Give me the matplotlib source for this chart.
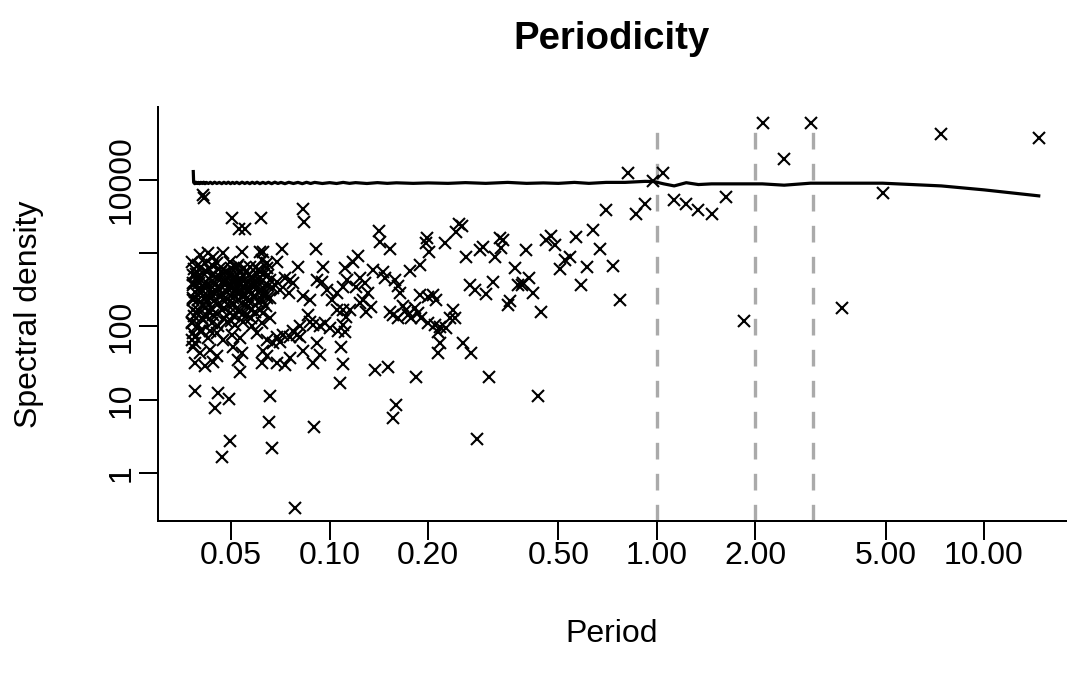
import matplotlib
matplotlib.use("Agg")
import matplotlib.pyplot as plt
from matplotlib.ticker import NullLocator, FixedLocator, FixedFormatter

# ---------------- data (period, spectral density) ----------------
# dense short-period cluster
dense_period = [0.0402, 0.0426, 0.0441, 0.0473, 0.0539, 0.0613,
                0.0380, 0.0397, 0.0416, 0.0452, 0.0496, 0.0526, 0.0571, 0.0606, 0.0642,
                0.0381, 0.0393, 0.0411, 0.0436, 0.0462, 0.0490, 0.0508, 0.0545, 0.0578, 0.0613, 0.0650,
                0.0383, 0.0402, 0.0421, 0.0446, 0.0479, 0.0502, 0.0526, 0.0558, 0.0592, 0.0627,
                0.0381, 0.0397, 0.0421, 0.0441, 0.0473, 0.0508, 0.0539, 0.0571, 0.0606, 0.0642,
                0.0382, 0.0393, 0.0416, 0.0441, 0.0468, 0.0496, 0.0526, 0.0558, 0.0592, 0.0627,
                0.0380, 0.0397, 0.0411, 0.0436, 0.0457, 0.0485, 0.0514, 0.0545, 0.0578, 0.0620,
                0.0381, 0.0388, 0.0407, 0.0426, 0.0452, 0.0473, 0.0502, 0.0532, 0.0599,
                0.0383, 0.0402, 0.0431, 0.0452, 0.0508, 0.0539, 0.0620,
                0.0388, 0.0416, 0.0441, 0.0526, 0.0532,
                0.0508, 0.0532, 0.0558, 0.0585, 0.0520, 0.0551, 0.0578, 0.0599, 0.0384, 0.0401,
                0.0422, 0.0389, 0.0431, 0.0380, 0.0381, 0.0382, 0.0380,
                0.0386, 0.0395, 0.0405, 0.0409, 0.0418, 0.0424, 0.0429, 0.0434, 0.0439, 0.0444,
                0.0449, 0.0455, 0.0460, 0.0465, 0.0470, 0.0476, 0.0482, 0.0487, 0.0493, 0.0499,
                0.0505, 0.0511, 0.0517, 0.0523, 0.0529, 0.0535, 0.0542, 0.0548, 0.0555, 0.0562,
                0.0568, 0.0575, 0.0582, 0.0590, 0.0597, 0.0604, 0.0611, 0.0618, 0.0625, 0.0632,
                0.0640, 0.0648, 0.0656,
                0.0387, 0.0391, 0.0396, 0.0400, 0.0404, 0.0408, 0.0413, 0.0417, 0.0422, 0.0427,
                0.0432, 0.0437, 0.0443, 0.0448, 0.0453, 0.0458, 0.0464, 0.0469, 0.0474, 0.0480,
                0.0486, 0.0492, 0.0498, 0.0504, 0.0510, 0.0516, 0.0522, 0.0528, 0.0534, 0.0541,
                0.0547, 0.0554, 0.0561, 0.0568, 0.0576, 0.0584]
dense_density = [951, 1003, 901, 1003, 1055, 1055,
                 771, 695, 733, 733, 771, 695, 659, 594, 733,
                 508, 481, 535, 508, 481, 535, 434, 508, 457, 481, 508,
                 371, 334, 352, 317, 371, 334, 352, 317, 371, 334,
                 244, 231, 219, 257, 231, 244, 208, 231, 219, 244,
                 169, 152, 178, 144, 169, 152, 169, 144, 160, 152,
                 117, 105, 123, 111, 100, 117, 105, 117, 100, 111,
                 81, 73, 86, 70, 81, 66, 77, 70, 81,
                 53, 43, 48, 39, 53, 43, 32,
                 32, 28.5, 33, 35, 24,
                 391, 371, 411, 352, 286, 271, 286, 334, 137, 88,
                 137, 59, 88, 111, 231, 391, 66,
                 600, 420, 290, 200, 410, 260, 600, 180, 390, 290,
                 470, 200, 330, 560, 280, 130, 430, 300, 190, 620,
                 280, 140, 470, 230, 560, 300, 150, 620, 380, 190,
                 500, 130, 410, 250, 640, 300, 170, 400, 280, 520,
                 190, 360, 130,
                 300, 520, 170, 390, 640, 130, 350, 250, 560, 160,
                 330, 700, 220, 380, 150, 610, 260, 400, 180, 560,
                 240, 360, 120, 500, 200, 330, 650, 160, 440, 260,
                 350, 560, 220, 300, 170, 460]

# 0.06 - 0.115
mid_period = [0.0627, 0.0620, 0.0689, 0.0802, 0.0957, 0.0642, 0.0613,
              0.0657, 0.0689, 0.0731, 0.0757, 0.0775, 0.0673, 0.0706, 0.0750, 0.0635, 0.0657, 0.0620,
              0.0831, 0.0871, 0.0913, 0.0946, 0.0980, 0.1015, 0.1051, 0.1099, 0.1128,
              0.0861, 0.0871, 0.0812, 0.0775,
              0.0689, 0.0722, 0.0757, 0.0793, 0.0812, 0.0706, 0.0673, 0.0642,
              0.0892, 0.0935, 0.0968, 0.1003, 0.1063, 0.1101, 0.1051,
              0.0913, 0.0935, 0.0892,
              0.0627, 0.0642, 0.0689, 0.0731, 0.0757, 0.0831]
mid_density = [1055, 813, 771, 659, 659, 627, 563,
               434, 411, 457, 434, 391, 334, 317, 286, 286, 244, 231,
               257, 231, 434, 411, 317, 231, 286, 345, 434,
               144, 117, 100, 85.5,
               73, 77, 73, 77, 73, 62, 59, 66,
               105, 100, 111, 95, 85.5, 169, 169,
               59, 41, 32,
               46, 39, 32, 30, 37, 46]

# isolated points at short periods
sparse_period = [0.0411, 0.0413, 0.0502, 0.0529, 0.0551, 0.0616, 0.0830, 0.0832, 0.0713, 0.0906,
                 0.0389, 0.0445, 0.0456, 0.0494, 0.0496, 0.0469, 0.0659, 0.0654, 0.0667, 0.0896, 0.0782]
sparse_density = [6210, 5660, 3000, 2150, 2150, 3000, 4060, 2700, 1157, 1150,
                  13.2, 7.8, 12.4, 10.1, 2.7, 1.65, 11.1, 4.9, 2.2, 4.2, 0.338]

# 0.1 - 0.45
band_period = [0.248, 0.253, 0.244, 0.294, 0.288, 0.262, 0.226, 0.1985, 0.1967, 0.2013, 0.1884, 0.1757,
               0.1415, 0.1422, 0.1526, 0.122, 0.1178, 0.1111, 0.268, 0.278, 0.301,
               0.1356, 0.1455, 0.1473, 0.158, 0.1618, 0.1637,
               0.1235, 0.128, 0.1207, 0.131, 0.1264, 0.134, 0.1235, 0.1295,
               0.1151, 0.1124, 0.1098, 0.1111, 0.1086, 0.1098, 0.1073,
               0.1526, 0.1562, 0.1618, 0.1676, 0.1716, 0.1735, 0.1778, 0.182, 0.1862, 0.1907,
               0.1999, 0.207, 0.212, 0.1884,
               0.1999, 0.2095, 0.217, 0.2145, 0.2274, 0.2328, 0.2383, 0.241,
               0.217, 0.2145, 0.2556, 0.2713,
               0.1373, 0.1508, 0.1833, 0.306, 0.159, 0.1562, 0.283, 0.434]
band_density = [2507, 2354, 1969, 1230, 1107, 898, 1367, 1600, 1367, 1050, 691, 578,
                2032, 1438, 1132, 917, 767, 623, 369, 315, 278,
                591, 560, 455, 431, 357, 284,
                455, 389, 343, 284, 230, 186, 207, 159,
                168, 136, 105, 85, 53, 31, 16.8,
                159, 144, 129, 190, 168, 144, 129, 177, 151, 129,
                255, 269, 230, 269,
                111, 105, 99, 85, 94, 129, 168, 129,
                59, 43, 59, 43,
                25.5, 28.3, 20.6, 20.6, 8.5, 5.6, 2.9, 11.4]

# 0.3 - 15
long_period = [2.11, 2.95, 7.38, 14.7, 2.44, 1.045, 0.975, 0.919, 1.13, 1.23, 1.34, 1.47, 1.63, 4.92,
               3.68, 1.845,
               0.817, 0.862, 0.698, 0.639, 0.565, 0.669, 0.735, 0.612, 0.588, 0.774,
               0.474, 0.458, 0.488, 0.398, 0.542, 0.523, 0.505, 0.331, 0.339, 0.335, 0.320,
               0.368, 0.407, 0.377, 0.386, 0.389, 0.419, 0.355, 0.351, 0.444, 0.315]
long_density = [59400, 59400, 42500, 37400, 19500, 12300, 9690, 4660, 5330, 4700, 3890, 3400, 5920, 6580,
                181, 118,
                12600, 3430, 3860, 2080, 1650, 1143, 676, 656, 369, 230,
                1720, 1517, 1297, 1107, 881, 809, 604, 1600, 1517, 1169, 881,
                623, 455, 369, 369, 393, 289, 225, 197, 159, 409]

# smoothed spectrum
line_period = [0.0383, 0.0384, 0.0387, 0.0390, 0.0394, 0.0397, 0.0400, 0.0404, 0.0408, 0.0412,
               0.0416, 0.0420, 0.0426, 0.0432, 0.0438, 0.0445, 0.0452, 0.0460, 0.0468, 0.0475,
               0.0483, 0.0490, 0.0498, 0.0505, 0.0512, 0.0520, 0.0530, 0.0540, 0.0550, 0.0560,
               0.0570, 0.0580, 0.0590, 0.0600, 0.0612, 0.0625, 0.0637, 0.065, 0.0665, 0.068,
               0.0695, 0.071, 0.073, 0.075, 0.0775, 0.080, 0.0825, 0.085, 0.0875, 0.09,
               0.095, 0.1, 0.105, 0.11, 0.115, 0.12, 0.13, 0.14, 0.15, 0.16,
               0.18, 0.2, 0.23, 0.26, 0.3, 0.35, 0.4, 0.45, 0.5, 0.56,
               0.62, 0.7, 0.8, 0.92, 0.98, 1.05, 1.13, 1.23, 1.34, 1.47,
               1.63, 1.85, 2.1, 2.45, 2.95, 3.7, 4.9, 7.4, 10.0, 14.7]
line_density = [13030, 9270, 8900, 9330, 8950, 9270, 8900, 9300, 8950, 9330,
                8900, 9270, 8950, 9300, 8900, 9330, 8950, 9270, 8900, 9300,
                8950, 9330, 8900, 9270, 8950, 9300, 8900, 9330, 8950, 9270,
                8900, 9300, 8950, 9330, 8900, 9270, 8950, 9300, 8900, 9330,
                8950, 9270, 8900, 9300, 8950, 9270, 8900, 9300, 8950, 9270,
                8950, 9200, 8950, 9270, 8990, 9200, 8950, 9200, 8990, 9150,
                8990, 9120, 8990, 9200, 8990, 9270, 8990, 9120, 8990, 9270,
                8990, 9270, 9270, 9570, 9510, 8850, 8300, 9180, 8660, 8850,
                8850, 8850, 8850, 8490, 9040, 9040, 9040, 8300, 7330, 6070]

ref_periods = [1, 2, 3]
xticks = [0.05, 0.1, 0.2, 0.5, 1, 2, 5, 10]
xtick_labels = ["0.05", "0.10", "0.20", "0.50", "1.00", "2.00", "5.00", "10.00"]
yticks = [1, 10, 100, 1000, 10000]
ytick_labels = ["1", "10", "100", "", "10000"]

period = dense_period + mid_period + sparse_period + band_period + long_period
density = dense_density + mid_density + sparse_density + band_density + long_density

# ---------------- figure ----------------
plt.rcParams["font.family"] = ["Liberation Sans", "DejaVu Sans"]
W, H = 1068, 675
fig = plt.figure(figsize=(W / 100, H / 100), dpi=100)
left_px, right_px, top_px, bottom_px = 158, 1066, 107, 520.5
ax = fig.add_axes([left_px / W, 1 - bottom_px / H, (right_px - left_px) / W, (bottom_px - top_px) / H])
ax.set_xscale("log")
ax.set_yscale("log")
ymin, ymax = 0.2249, 99100
ax.set_xlim(0.02988, 17.81)
ax.set_ylim(ymin, ymax)

ax.vlines(ref_periods, ymin=ymin, ymax=56000, colors="#AAAAAA",
          linestyles=(0, (5.0, 4.3)), linewidth=2.4, zorder=1)
ax.plot(line_period, line_density, color="black", lw=2.3, zorder=2)
ax.plot(period, density, linestyle="none", marker="x", ms=8.6, mew=1.5,
        color="black", zorder=3)

for s in ["top", "right"]:
    ax.spines[s].set_visible(False)
for s in ["left", "bottom"]:
    ax.spines[s].set_linewidth(1.44)

ax.xaxis.set_major_locator(FixedLocator(xticks))
ax.xaxis.set_major_formatter(FixedFormatter(xtick_labels))
ax.yaxis.set_major_locator(FixedLocator(yticks))
ax.yaxis.set_major_formatter(FixedFormatter(ytick_labels))
ax.xaxis.set_minor_locator(NullLocator())
ax.yaxis.set_minor_locator(NullLocator())
ax.tick_params(axis="both", which="major", length=13.8, width=1.44, direction="out",
               labelsize=23, color="black")
ax.tick_params(axis="x", pad=1.3)
ax.tick_params(axis="y", pad=1.8)
for lab in ax.get_yticklabels():
    lab.set_rotation(90)
    lab.set_va("center")
    lab.set_ha("right")

fig.text(612 / W, 1 - 49 / H, "Periodicity", ha="center", va="baseline",
         fontsize=27.6, fontweight="bold")
fig.text(612 / W, 1 - 641.5 / H, "Period", ha="center", va="baseline", fontsize=23)
fig.text(43.7 / W, 1 - 313.75 / H, "Spectral density", ha="right", va="center",
         rotation=90, fontsize=23)

fig.savefig("out.png", dpi=100)
